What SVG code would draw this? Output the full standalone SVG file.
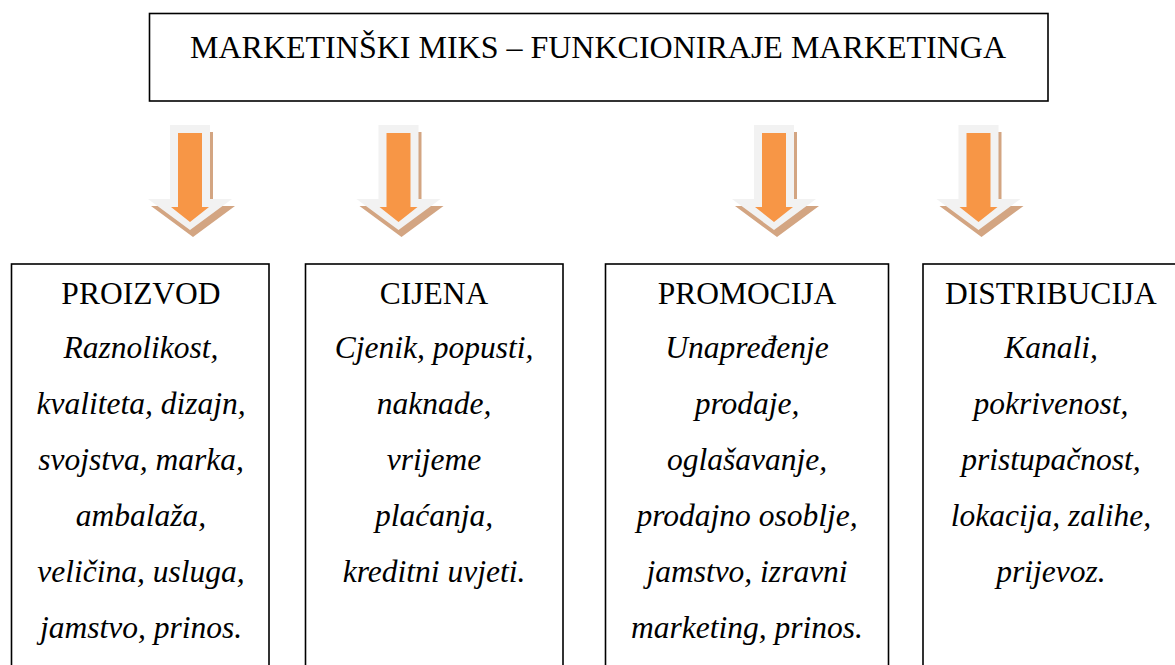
<svg xmlns="http://www.w3.org/2000/svg" width="1175" height="665" viewBox="0 0 1175 665">
<style>
.box{fill:#fff;stroke:#000;stroke-width:1.6}
.t{font-family:"Liberation Serif","Times New Roman",serif;font-size:31.5px;fill:#000;text-anchor:middle}
.i{font-style:italic}
.sh{fill:#D3A582}
.out{fill:#F2F2F2}
.or{fill:#F79646}
</style>
<defs>
<g id="arrow">
<polygon class="sh" transform="translate(3,7)" points="-20,0 20,0 20,74 42,74 0,105 -42,74 -20,74"/>
<polygon class="out" points="-20,0 20,0 20,74 42,74 0,105 -42,74 -20,74"/>
<polygon class="or" points="-12,8 12,8 12,82 19,82 0,97 -19,82 -12,82"/>
</g>
</defs>
<rect width="1175" height="665" fill="#fff"/>
<g id="connectors">
<use href="#arrow" transform="translate(190,125)"/>
<use href="#arrow" transform="translate(398.5,125)"/>
<use href="#arrow" transform="translate(774,125)"/>
<use href="#arrow" transform="translate(978.5,125)"/>
</g>
<g id="title">
<rect class="box" x="149.5" y="13.5" width="898.5" height="87.5"/>
<text class="t" x="598" y="58" style="font-size:32px">MARKETINŠKI MIKS – FUNKCIONIRAJE MARKETINGA</text>
</g>
<g id="proizvod">
<rect class="box" x="11.5" y="264" width="257.5" height="410"/>
<text class="t" x="141" y="304">PROIZVOD</text>
<text class="t i" x="141" y="358">Raznolikost,</text>
<text class="t i" x="141" y="414">kvaliteta, dizajn,</text>
<text class="t i" x="141" y="470">svojstva, marka,</text>
<text class="t i" x="141" y="526">ambalaža,</text>
<text class="t i" x="141" y="582">veličina, usluga,</text>
<text class="t i" x="141" y="638">jamstvo, prinos.</text>
</g>
<g id="cijena">
<rect class="box" x="305.5" y="264" width="257.5" height="410"/>
<text class="t" x="434" y="304">CIJENA</text>
<text class="t i" x="434" y="358">Cjenik, popusti,</text>
<text class="t i" x="434" y="414">naknade,</text>
<text class="t i" x="434" y="470">vrijeme</text>
<text class="t i" x="434" y="526">plaćanja,</text>
<text class="t i" x="434" y="582">kreditni uvjeti.</text>
</g>
<g id="promocija">
<rect class="box" x="605.5" y="264" width="283" height="410"/>
<text class="t" x="747" y="304">PROMOCIJA</text>
<text class="t i" x="747" y="358">Unapređenje</text>
<text class="t i" x="747" y="414">prodaje,</text>
<text class="t i" x="747" y="470">oglašavanje,</text>
<text class="t i" x="747" y="526">prodajno osoblje,</text>
<text class="t i" x="747" y="582">jamstvo, izravni</text>
<text class="t i" x="747" y="638">marketing, prinos.</text>
</g>
<g id="distribucija">
<rect class="box" x="923" y="264" width="260" height="410"/>
<text class="t" x="1051" y="304">DISTRIBUCIJA</text>
<text class="t i" x="1051" y="358">Kanali,</text>
<text class="t i" x="1051" y="414">pokrivenost,</text>
<text class="t i" x="1051" y="470">pristupačnost,</text>
<text class="t i" x="1051" y="526">lokacija, zalihe,</text>
<text class="t i" x="1051" y="582">prijevoz.</text>
</g>
</svg>
